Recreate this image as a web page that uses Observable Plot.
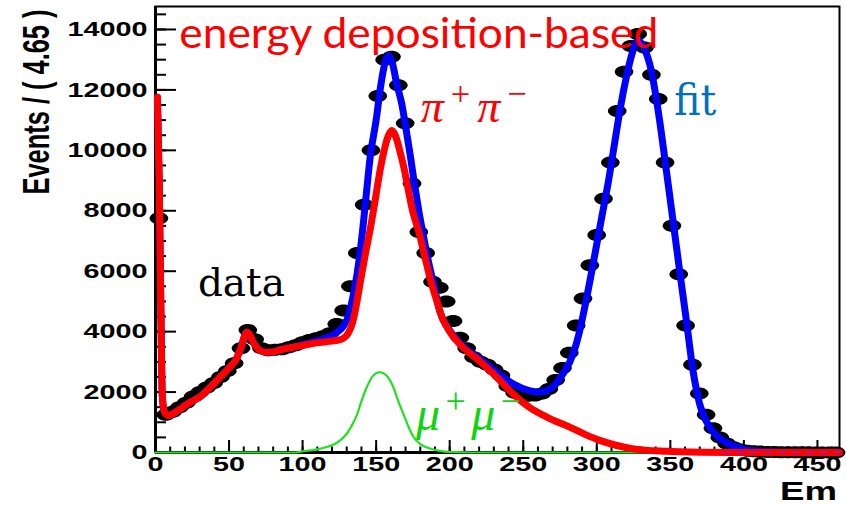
<!DOCTYPE html>
<html><head><meta charset="utf-8">
<script src="https://cdn.jsdelivr.net/npm/d3@7"></script>
<script src="https://cdn.jsdelivr.net/npm/@observablehq/plot@0.6"></script>
<style>
html,body{margin:0;padding:0;background:#fff;}
#chart svg{display:block;overflow:visible;}
</style></head><body><div id="chart"></div>
<script>
// ---- data ----
const binWidth = 4.65;
const dataCounts = [
 7750,1250,1350,1500,1650,1850,2000,2150,2300,2500,
 2700,2950,3450,4050,3750,3450,3380,3400,3420,3480,
 3550,3650,3720,3780,3850,3950,4250,4700,5500,6600,
 8200,10000,11800,13000,13100,12150,10900,8900,7300,6600,
 5650,5450,5000,4350,3800,3450,3150,3000,2900,2750,
 2550,2200,1980,1920,1880,1890,1950,2100,2400,2800,
 3300,4200,5100,6200,7200,8400,9600,11300,12600,13450,
 13850,13400,12500,11700,9600,7500,5900,4200,2900,1950,
 1250,800,500,300,170,100,60,40,30,20,
 15,10,10,5,5,5,0,0,0,0
];
const fitEm = [1.3,2.5,3.3,4.0,4.6,6,9,15,20,25,30,35,40,45,50,55,58,62,64,67,71,75,80,85,90,95,100,105,110,115,120,124,128,131,134,137,140,143,146,150,153,156,158.3,161,164,167.4,170,173,176,179,182,185,189,193.4,200,209,220,232,243,254,261,270,277,284,288,292,296,300,304,308,312,316,320,324,328,332,337,342.7,347.3,351.8,356.3,360.9,365.4,369.9,376.7,385.7,394.8,405,420,440,465];
const fitVal = [11760,9000,6000,3500,1900,1350,1225,1380,1550,1700,1830,2050,2300,2550,2800,3100,3450,3980,3900,3600,3380,3320,3330,3400,3450,3500,3570,3630,3700,3780,3870,4000,4200,4500,5100,5900,7000,8400,9800,11000,12100,12900,13140,12900,12200,11540,10800,9890,8900,8000,7200,6450,5600,4650,4040,3520,3120,2660,2270,2050,2000,2160,2600,3270,3950,4850,5850,6900,7950,9000,10200,11400,12400,13200,13640,13400,12650,10990,9330,7680,6020,4370,2710,1610,840,400,180,60,20,8,5];
const pipiEm = [1.3,2.5,3.3,4.0,4.6,6,9,15,20,25,30,35,40,45,50,55,58,62,64,67,71,75,80,85,90,95,100,105,110,115,120,124,128,131,134,137,140,143,146,149,152,155,158,160.6,163,166,169,172,175,179,183,187,191,195,200,209,220,232,243,254,266,282,292,302,313,325,347,370,400,465];
const pipiVal = [11760,9000,6000,3500,1900,1350,1225,1380,1550,1700,1830,2050,2300,2550,2800,3100,3450,3980,3900,3600,3380,3320,3330,3400,3450,3500,3540,3590,3630,3660,3690,3720,3790,3950,4300,5000,5850,6650,7400,8250,9150,9900,10450,10660,10500,10000,9400,8650,7950,7300,6500,5700,5050,4450,4000,3480,3040,2490,1940,1500,1170,830,600,400,240,120,40,10,0,0];
const mumuEm = [0,95,100,107,114,120,126,130,133,137,140,144,148,152.5,157,161.7,165,168.5,172,175.3,180,186,195,205,215,465];
const mumuVal = [0,0,40,80,150,240,420,620,850,1250,1700,2200,2550,2660,2550,2160,1700,1280,850,520,280,140,40,10,0,0];
const otherEm = [385,465];
const otherVal = [0,0];
const xTicks = [0,50,100,150,200,250,300,350,400,450];
const xMinor = d3.range(0,461,10);
const yTicks = [0,2000,4000,6000,8000,10000,12000,14000];
const yMinor = d3.range(0,14751,500);

// ---- build ----
const bins = dataCounts.map((n,i)=>({em:(i+0.5)*binWidth, n}));
const zip = (xs,ys)=>xs.map((e,i)=>({em:e, v:ys[i]}));
const fit = zip(fitEm, fitVal), pipi = zip(pipiEm, pipiVal), mumu = zip(mumuEm, mumuVal), other = zip(otherEm, otherVal);

const ellipse = {draw(ctx, size){
  const ry = Math.sqrt(size/Math.PI), rx = ry*1.55, k = 0.5523;
  ctx.moveTo(rx,0);
  ctx.bezierCurveTo(rx, ry*k, rx*k, ry, 0, ry);
  ctx.bezierCurveTo(-rx*k, ry, -rx, ry*k, -rx, 0);
  ctx.bezierCurveTo(-rx, -ry*k, -rx*k, -ry, 0, -ry);
  ctx.bezierCurveTo(rx*k, -ry, rx, -ry*k, rx, 0);
  ctx.closePath();
}};

const W=846, H=505, ML=155, MR=7, MT=6, MB=53;
const XMAX=465, YMAX=14760;
const pxX = (W-ML-MR)/XMAX, pxY = (H-MT-MB)/YMAX;
const tk = (px, per) => px/per; // pixel length -> data length
const axisFont = "'Liberation Sans', Arial, Helvetica, sans-serif";

const chart = Plot.plot({
  width: W, height: H,
  marginLeft: ML, marginRight: MR, marginTop: MT, marginBottom: MB,
  x: {domain: [0, XMAX]},
  y: {domain: [0, YMAX]},
  style: {background: "white"},
  marks: [
    Plot.frame({stroke: "black", strokeWidth: 2}),
    Plot.ruleY(yMinor, {x1: 0, x2: tk(11, pxX), stroke: "black", strokeWidth: 2}),
    Plot.ruleY(yTicks, {x1: 0, x2: tk(21, pxX), stroke: "black", strokeWidth: 2}),
    Plot.ruleX(xMinor, {y1: 0, y2: tk(5.5, pxY), stroke: "black", strokeWidth: 2}),
    Plot.ruleX(xTicks, {y1: 0, y2: tk(12, pxY), stroke: "black", strokeWidth: 2}),
    Plot.ruleX([0], {stroke: "black", strokeWidth: 3}),
    Plot.ruleY([0], {stroke: "black", strokeWidth: 3}),
    Plot.axisY({ticks: yTicks, tickSize: 0, tickPadding: 8, tickFormat: d => String(d), label: null,
      fontSize: 21, fontWeight: "bold", fontFamily: axisFont, fill: "black"}),
    Plot.axisX({ticks: xTicks, tickSize: 0, tickPadding: 4, tickFormat: d => String(d), label: null,
      fontSize: 21, fontWeight: "bold", fontFamily: axisFont, fill: "black"}),
    Plot.line(mumu, {x: "em", y: "v", stroke: "#22e022", strokeWidth: 2.2, curve: "monotone-x"}),
    Plot.dot(bins, {x: "em", y: "n", r: 6, symbol: ellipse, fill: "black", stroke: "none"}),
    Plot.line(fit, {x: "em", y: "v", stroke: "#0000ff", strokeWidth: 7, curve: "monotone-x"}),
    Plot.line(pipi, {x: "em", y: "v", stroke: "#ff0000", strokeWidth: 7, curve: "monotone-x"}),
    Plot.line(other, {x: "em", y: "v", stroke: "#a0209a", strokeWidth: 1.5, strokeDasharray: "8,6"})
  ]
});
document.getElementById("chart").appendChild(chart);

// stretch the tick labels horizontally like the original
const svg = d3.select(chart);
svg.selectAll('g[aria-label="y-axis tick label"] text, g[aria-label="x-axis tick label"] text').each(function(){
  const t = this.textContent;
  this.setAttribute("textLength", t.length*16);
  this.setAttribute("lengthAdjust", "spacingAndGlyphs");
});

const sx = chart.scale("x"), sy = chart.scale("y");
const X = v => sx.apply(v), Y = v => sy.apply(v);
const ann = svg.append("g").attr("text-anchor", "start");

// axis titles
ann.append("text")
  .attr("transform", `translate(48.5,9.5) rotate(-90) scale(1,1.45)`)
  .attr("text-anchor", "end").attr("font-family", axisFont).attr("font-weight", "bold")
  .attr("font-size", 25).attr("textLength", 185).attr("lengthAdjust", "spacingAndGlyphs")
  .text("Events / ( 4.65 )");
ann.append("text")
  .attr("x", 837).attr("y", 500).attr("text-anchor", "end").attr("font-family", axisFont)
  .attr("font-weight", "bold").attr("font-size", 25.5).attr("textLength", 57).attr("lengthAdjust", "spacingAndGlyphs")
  .text("Em");

// annotations
ann.append("text").attr("x", X(16.5)).attr("y", Y(13386)).attr("fill", "#ff0000")
  .attr("font-family", "Lato, 'Open Sans', sans-serif").attr("font-size", 42)
  .attr("textLength", 479).attr("lengthAdjust", "spacingAndGlyphs")
  .text("energy deposition-based");

ann.append("text").attr("x", X(29.2)).attr("y", Y(5163)).attr("fill", "black")
  .attr("font-family", "'DejaVu Serif', serif").attr("font-size", 40)
  .attr("textLength", 87).attr("lengthAdjust", "spacingAndGlyphs")
  .text("data");

ann.append("text").attr("x", X(353)).attr("y", Y(11153)).attr("fill", "#0070c0")
  .attr("font-family", "'DejaVu Serif', serif").attr("font-size", 42)
  .attr("textLength", 42).attr("lengthAdjust", "spacingAndGlyphs")
  .text("fit");

function pair(em, v, sym, color, size, len){
  const t = ann.append("text").attr("x", X(em)).attr("y", Y(v)).attr("fill", color)
    .attr("font-family", "'Liberation Serif', 'DejaVu Serif', serif").attr("font-size", size)
    .attr("textLength", len).attr("lengthAdjust", "spacing");
  t.append("tspan").attr("font-style", "italic").text(sym);
  t.append("tspan").attr("dy", -size*0.36).attr("font-size", size*0.75).text("+");
  t.append("tspan").attr("dy", size*0.36).attr("font-style", "italic").text(sym);
  t.append("tspan").attr("dy", -size*0.36).attr("font-size", size*0.75).text("\u2212");
}
pair(180.6, 10921, "\u03c0", "#ff0000", 46, 106);
pair(177.5, 728, "\u03bc", "#11d411", 48, 105);
</script>
</body></html>
